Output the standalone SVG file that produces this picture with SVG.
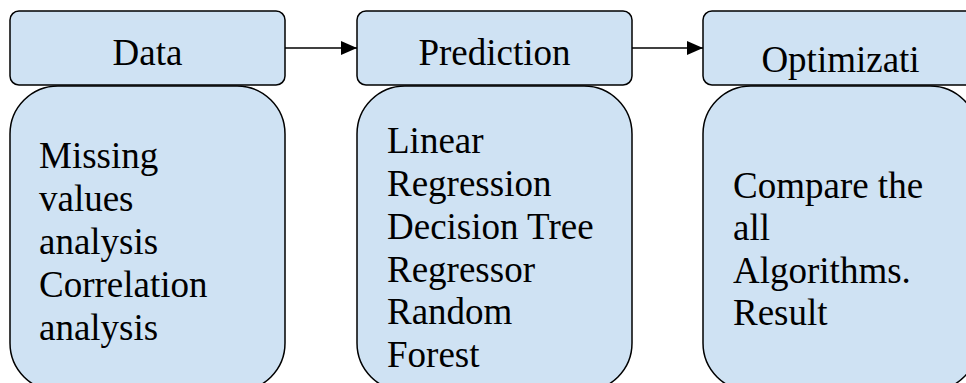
<svg xmlns="http://www.w3.org/2000/svg" width="966" height="383" viewBox="0 0 966 383">
<style>
.box{fill:#cfe2f3;stroke:#000;stroke-width:1.5}
.t{font-family:"Liberation Serif","Times New Roman",serif;font-size:37px;fill:#000}
.c{text-anchor:middle}
.edge{stroke:#000;stroke-width:1.5;fill:none}
</style>
<defs>
<marker id="ah" viewBox="0 0 16 14" refX="16" refY="7" markerWidth="16" markerHeight="14" markerUnits="userSpaceOnUse" orient="auto">
<path d="M0,0 L16,7 L0,14 Z" fill="#000"/>
</marker>
</defs>
<rect width="966" height="383" fill="#fff"/>
<g id="connectors">
<line class="edge" x1="285" y1="48" x2="357" y2="48" marker-end="url(#ah)"/>
<line class="edge" x1="632" y1="48" x2="703" y2="48" marker-end="url(#ah)"/>
</g>
<g id="data">
<rect class="box" x="10" y="86" width="275" height="305" rx="48" ry="48"/>
<rect class="box" x="10" y="11" width="275" height="74" rx="9" ry="9"/>
<text class="t c" x="147.5" y="65">Data</text>
<text class="t" x="39">
<tspan x="39" y="168">Missing</tspan>
<tspan x="39" y="211">values</tspan>
<tspan x="39" y="254">analysis</tspan>
<tspan x="39" y="297">Correlation</tspan>
<tspan x="39" y="340">analysis</tspan>
</text>
</g>
<g id="prediction">
<rect class="box" x="357" y="86" width="275" height="305" rx="48" ry="48"/>
<rect class="box" x="357" y="11" width="275" height="74" rx="9" ry="9"/>
<text class="t c" x="494.5" y="65">Prediction</text>
<text class="t" x="387">
<tspan x="387" y="153">Linear</tspan>
<tspan x="387" y="196">Regression</tspan>
<tspan x="387" y="238.5">Decision Tree</tspan>
<tspan x="387" y="281.5">Regressor</tspan>
<tspan x="387" y="324">Random</tspan>
<tspan x="387" y="367">Forest</tspan>
</text>
</g>
<g id="optimization">
<rect class="box" x="703" y="86" width="275" height="305" rx="48" ry="48"/>
<rect class="box" x="703" y="11" width="275" height="74" rx="9" ry="9"/>
<text class="t c" x="840.5" y="72">Optimizati</text>
<text class="t" x="733">
<tspan x="733" y="198">Compare the</tspan>
<tspan x="733" y="240">all</tspan>
<tspan x="733" y="283">Algorithms.</tspan>
<tspan x="733" y="325">Result</tspan>
</text>
</g>
</svg>
